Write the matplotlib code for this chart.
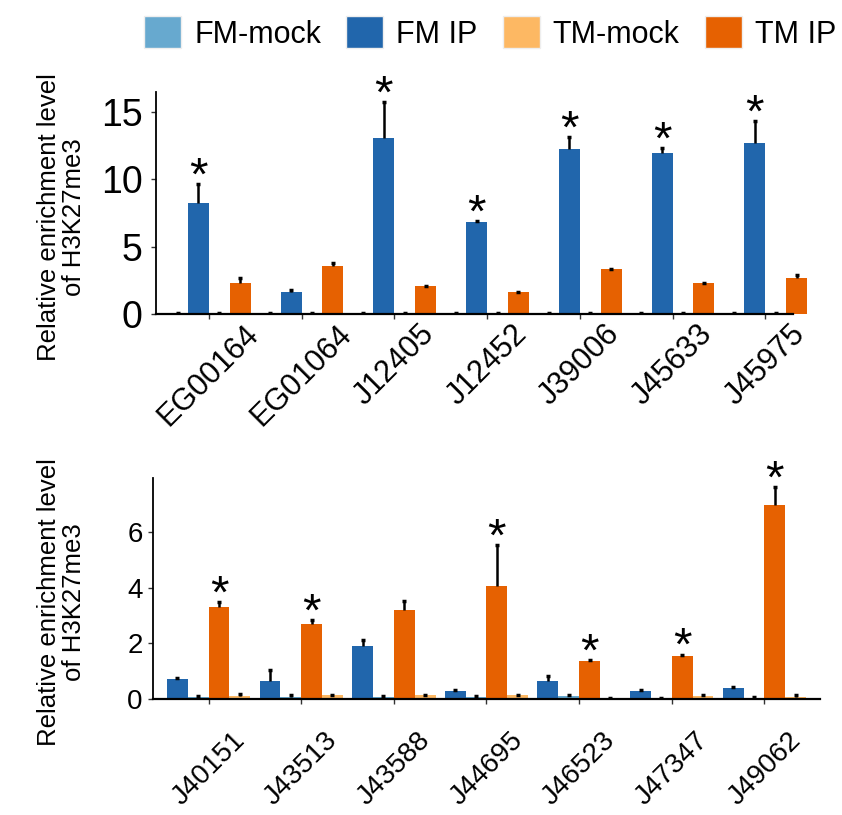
import numpy as np
import matplotlib
matplotlib.use('Agg')
import matplotlib.pyplot as plt
from matplotlib.patches import Patch

plt.rcParams['font.family'] = ['Liberation Sans', 'DejaVu Sans']

c_fm_mock = '#67a9cf'
c_fm_ip = '#2166ac'
c_tm_mock = '#fdb863'
c_tm_ip = '#e66101'

# top panel (FM IP marked)
top_genes = ['EG00164', 'EG01064', 'J12405', 'J12452', 'J39006', 'J45633', 'J45975']
top_fm_mock = [0.02, 0.02, 0.02, 0.03, 0.03, 0.02, 0.02]
top_fm_mock_err = [0.03, 0.03, 0.03, 0.04, 0.04, 0.03, 0.03]
top_fm_ip = [8.22, 1.63, 13.08, 6.84, 12.26, 11.96, 12.70]
top_fm_ip_err = [1.41, 0.13, 2.67, 0.06, 0.87, 0.40, 1.64]
top_tm_mock = [0.03, 0.03, 0.05, 0.06, 0.06, 0.04, 0.02]
top_tm_mock_err = [0.03, 0.03, 0.03, 0.03, 0.03, 0.03, 0.03]
top_tm_ip = [2.30, 3.57, 2.08, 1.63, 3.34, 2.30, 2.67]
top_tm_ip_err = [0.37, 0.19, 0.03, 0.03, 0.03, 0.03, 0.23]
top_sig = [True, False, True, True, True, True, True]

# bottom panel (TM IP marked)
bot_genes = ['J40151', 'J43513', 'J43588', 'J44695', 'J46523', 'J47347', 'J49062']
bot_fm_ip = [0.72, 0.65, 1.90, 0.30, 0.65, 0.29, 0.40]
bot_fm_ip_err = [0.05, 0.39, 0.22, 0.03, 0.19, 0.02, 0.04]
bot_fm_mock = [0.07, 0.08, 0.07, 0.07, 0.10, 0.01, 0.05]
bot_fm_mock_err = [0.03, 0.05, 0.03, 0.02, 0.05, 0.03, 0.02]
bot_tm_ip = [3.31, 2.70, 3.20, 4.06, 1.37, 1.55, 6.97]
bot_tm_ip_err = [0.17, 0.14, 0.31, 1.48, 0.03, 0.05, 0.65]
bot_tm_mock = [0.11, 0.14, 0.14, 0.14, 0.01, 0.11, 0.07]
bot_tm_mock_err = [0.07, 0.02, 0.02, 0.02, 0.03, 0.04, 0.07]
bot_sig = [True, True, False, True, True, True, True]

w = 0.225


def bars(ax, xs, vals, errs, color):
    vals = np.array(vals)
    tops = vals + np.array(errs)
    ax.bar(xs, vals, width=w, color=color, linewidth=0, zorder=2)
    # upper error bar only, small cap on top
    ax.vlines(xs, vals, tops, color='black', linewidth=1.8, zorder=3)
    ax.plot(xs, tops, linestyle='none', marker='_', markersize=3.5,
            markeredgewidth=2.5, color='black', zorder=3)


def stars(ax, xs, vals, errs, sig):
    for x, v, e, s in zip(xs, vals, errs, sig):
        if s:
            ax.annotate('*', xy=(x, v + e), xytext=(0, -4), textcoords='offset points',
                        ha='center', va='baseline', fontsize=34)


def style(ax, genes, ylim, yticks, ysize, xsize, xpad, ypad):
    x = np.arange(1, len(genes) + 1)
    ax.set_ylim(*ylim)
    ax.set_yticks(yticks)
    ax.set_xticks(x)
    ax.set_xticklabels(genes)
    for sp in ['top', 'right']:
        ax.spines[sp].set_visible(False)
    ax.spines['left'].set_linewidth(1.3)
    ax.spines['bottom'].set_linewidth(1.6)
    ax.tick_params(axis='y', labelsize=ysize, length=3.5, width=1, color='#333333', pad=ypad)
    ax.tick_params(axis='x', labelsize=xsize, length=3.5, width=1, color='#333333', pad=xpad)
    plt.setp(ax.get_xticklabels(), rotation=45, ha='center')
    ax.set_ylabel('Relative enrichment level\nof H3K27me3', fontsize=18.5, linespacing=1.05)


fig = plt.figure(figsize=(8.42, 8.15), dpi=100)

# top
ax1 = fig.add_axes([156 / 842, 1 - 314 / 815, (808 - 156) / 842, (314 - 92) / 815])
x = np.arange(1, len(top_genes) + 1)
bars(ax1, x - 1.5 * w, top_fm_mock, top_fm_mock_err, c_fm_mock)
bars(ax1, x - 0.5 * w, top_fm_ip, top_fm_ip_err, c_fm_ip)
bars(ax1, x + 0.5 * w, top_tm_mock, top_tm_mock_err, c_tm_mock)
bars(ax1, x + 1.5 * w, top_tm_ip, top_tm_ip_err, c_tm_ip)
stars(ax1, x - 0.5 * w, top_fm_ip, top_fm_ip_err, top_sig)
ax1.set_xlim(0.43, 7.46)
style(ax1, top_genes, (0, 16.5), [0, 5, 10, 15], 27, 22, 0, 6)
ax1.spines['bottom'].set_bounds(0.43, 7.30)
ax1.yaxis.set_label_coords(-0.107, 0.437)

# bottom
ax2 = fig.add_axes([153 / 842, 1 - 699 / 815, (820 - 153) / 842, (699 - 478) / 815])
x = np.arange(1, len(bot_genes) + 1)
bars(ax2, x - 1.5 * w, bot_fm_ip, bot_fm_ip_err, c_fm_ip)
bars(ax2, x - 0.5 * w, bot_fm_mock, bot_fm_mock_err, c_fm_mock)
bars(ax2, x + 0.5 * w, bot_tm_ip, bot_tm_ip_err, c_tm_ip)
bars(ax2, x + 1.5 * w, bot_tm_mock, bot_tm_mock_err, c_tm_mock)
stars(ax2, x + 0.5 * w, bot_tm_ip, bot_tm_ip_err, bot_sig)
ax2.set_xlim(0.4, 7.6)
style(ax2, bot_genes, (0, 7.95), [0, 2, 4, 6], 20, 20, 17, 4)
ax2.yaxis.set_label_coords(-0.10, 0.44)

handles = [Patch(facecolor=c, edgecolor='#eeeeee', linewidth=1) for c in
           [c_fm_mock, c_fm_ip, c_tm_mock, c_tm_ip]]
fig.legend(handles, ['FM-mock', 'FM IP', 'TM-mock', 'TM IP'], loc='center',
           bbox_to_anchor=(490 / 842, 1 - 33 / 815), ncol=4, frameon=False,
           fontsize=22, handlelength=1.21, handleheight=1.21, handletextpad=0.42,
           columnspacing=0.83, borderaxespad=0)

fig.savefig('out.png', dpi=100)
